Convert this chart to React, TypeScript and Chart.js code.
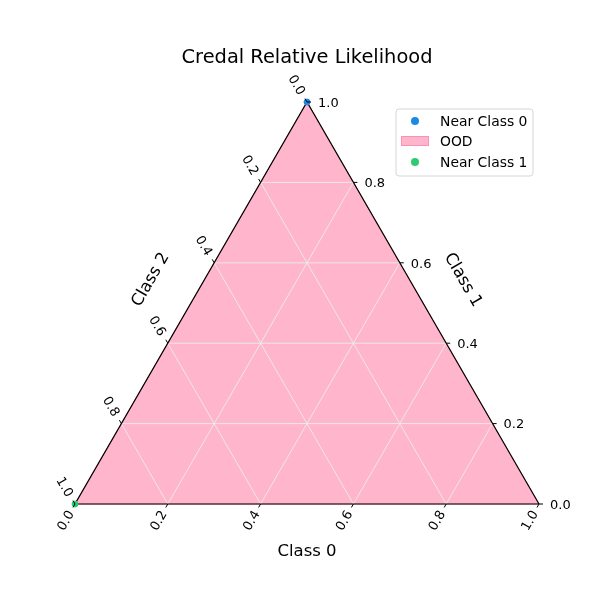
import React, { useEffect, useRef } from "react";
import { Chart, registerables } from "chart.js";

Chart.register(...registerables);

const H = Math.sqrt(3) / 2;

// ternary data (class0, class1, class2)
const nearClass0 = [[0, 1, 0]];
const nearClass1 = [[0, 0, 1]];
const oodRegion = [[1, 0, 0], [0, 1, 0], [0, 0, 1], [1, 0, 0]];
const tickValues = [0, 0.2, 0.4, 0.6, 0.8, 1.0];
const tickLabels = ["0.0", "0.2", "0.4", "0.6", "0.8", "1.0"];
const gridValues = [0.2, 0.4, 0.6, 0.8];
const axisTitles = ["Class 0", "Class 1", "Class 2"];
const legendLabels = ["Near Class 0", "OOD", "Near Class 1"];
const chartTitle = "Credal Relative Likelihood";

const BLUE = "#1E88E5";
const GREEN = "#2ECC71";
const PINK = "#FFB5CB";
const PINK_EDGE = "#FF8FB5";

function toXY(t: number[]) {
  const s = t[0] + t[1] + t[2];
  return { x: (t[0] + t[1] / 2) / s, y: (t[1] * H) / s };
}

export default function App() {
  const ref = useRef<HTMLCanvasElement | null>(null);
  useEffect(() => {
    document.body.style.margin = "0";
    const canvas = ref.current!;
    const gridSets: any[] = [];
    gridValues.forEach((g) => {
      const segs = [
        [[g, 1 - g, 0], [g, 0, 1 - g]],
        [[1 - g, g, 0], [0, g, 1 - g]],
        [[1 - g, 0, g], [0, 1 - g, g]],
      ];
      segs.forEach((s) => {
        gridSets.push({
          label: "grid",
          data: s.map(toXY),
          showLine: true,
          borderColor: "rgba(235,235,235,0.95)",
          borderWidth: 1,
          pointRadius: 0,
          fill: false,
          order: 2,
          clip: false,
        });
      });
    });
    const font = "'DejaVu Sans', sans-serif";
    const plugin = {
      id: "ternaryDecor",
      afterDraw(chart: any) {
        const ctx = chart.ctx as CanvasRenderingContext2D;
        const xs = chart.scales.x;
        const ys = chart.scales.y;
        const P = (t: number[]) => {
          const c = toXY(t);
          return { x: xs.getPixelForValue(c.x), y: ys.getPixelForValue(c.y) };
        };
        ctx.save();
        ctx.fillStyle = "#000";
        ctx.strokeStyle = "#000";
        ctx.lineWidth = 1;
        const tickLen = 4;
        tickValues.forEach((t, i) => {
          // bottom axis: class 0
          let p = P([t, 0, 1 - t]);
          let dx = -0.5, dy = H;
          ctx.beginPath();
          ctx.moveTo(p.x, p.y);
          ctx.lineTo(p.x + dx * tickLen, p.y + dy * tickLen);
          ctx.stroke();
          ctx.font = `13px ${font}`;
          ctx.save();
          ctx.translate(p.x + dx * 19, p.y + dy * 19);
          ctx.rotate(-Math.PI / 3);
          ctx.textAlign = "center";
          ctx.textBaseline = "middle";
          ctx.fillText(tickLabels[i], 0, 1);
          ctx.restore();
          // right axis: class 1
          p = P([1 - t, t, 0]);
          ctx.beginPath();
          ctx.moveTo(p.x, p.y);
          ctx.lineTo(p.x + tickLen, p.y);
          ctx.stroke();
          ctx.textAlign = "left";
          ctx.textBaseline = "middle";
          ctx.fillText(tickLabels[i], p.x + 11, p.y + 1.5);
          // left axis: class 2
          p = P([0, 1 - t, t]);
          dx = -0.5; dy = -H;
          ctx.beginPath();
          ctx.moveTo(p.x, p.y);
          ctx.lineTo(p.x + dx * tickLen, p.y + dy * tickLen);
          ctx.stroke();
          ctx.save();
          ctx.translate(p.x + dx * 20, p.y + dy * 20);
          ctx.rotate(Math.PI / 3);
          ctx.textAlign = "center";
          ctx.textBaseline = "middle";
          ctx.fillText(tickLabels[i], 0, 1);
          ctx.restore();
        });
        // axis titles
        ctx.font = `16.5px ${font}`;
        ctx.textAlign = "center";
        ctx.textBaseline = "middle";
        const b = P([0.5, 0, 0.5]);
        ctx.fillText(axisTitles[0], b.x, b.y + 47.5);
        const r = P([0.5, 0.5, 0]);
        ctx.save();
        ctx.translate(r.x + 47 * H, r.y - 47 * 0.5);
        ctx.rotate(Math.PI / 3);
        ctx.fillText(axisTitles[1], 0, 1);
        ctx.restore();
        const l = P([0, 0.5, 0.5]);
        ctx.save();
        ctx.translate(l.x - 47.5 * H, l.y - 47.5 * 0.5);
        ctx.rotate(-Math.PI / 3);
        ctx.fillText(axisTitles[2], 0, 1);
        ctx.restore();
        // title
        ctx.font = `19.4px ${font}`;
        ctx.fillText(chartTitle, 307, 58);
        // legend
        const lx = 396, ly = 109, lw = 137, lh = 67, rad = 3;
        ctx.beginPath();
        ctx.moveTo(lx + rad, ly);
        ctx.arcTo(lx + lw, ly, lx + lw, ly + lh, rad);
        ctx.arcTo(lx + lw, ly + lh, lx, ly + lh, rad);
        ctx.arcTo(lx, ly + lh, lx, ly, rad);
        ctx.arcTo(lx, ly, lx + lw, ly, rad);
        ctx.closePath();
        ctx.fillStyle = "rgba(255,255,255,0.8)";
        ctx.fill();
        ctx.strokeStyle = "#d6d6d6";
        ctx.stroke();
        const rows = [121, 141, 162];
        ctx.fillStyle = BLUE;
        ctx.beginPath();
        ctx.arc(415, rows[0], 4, 0, Math.PI * 2);
        ctx.fill();
        ctx.fillStyle = PINK;
        ctx.fillRect(401, rows[1] - 5, 28, 10);
        ctx.strokeStyle = PINK_EDGE;
        ctx.strokeRect(401.5, rows[1] - 4.5, 27, 9);
        ctx.fillStyle = GREEN;
        ctx.beginPath();
        ctx.arc(415, rows[2], 4, 0, Math.PI * 2);
        ctx.fill();
        ctx.fillStyle = "#000";
        ctx.font = `13.9px ${font}`;
        ctx.textAlign = "left";
        legendLabels.forEach((s, i) => ctx.fillText(s, 440, rows[i] + 1));
        ctx.restore();
      },
    };
    const chart = new Chart(canvas, {
      type: "scatter",
      data: {
        datasets: [
          {
            label: legendLabels[0],
            data: nearClass0.map(toXY),
            backgroundColor: BLUE,
            borderColor: BLUE,
            pointRadius: 3,
            order: 0,
            clip: false,
          } as any,
          {
            label: legendLabels[2],
            data: nearClass1.map(toXY),
            backgroundColor: GREEN,
            borderColor: GREEN,
            pointRadius: 3,
            order: 0,
            clip: false,
          },
          {
            label: "spines",
            data: oodRegion.map(toXY),
            showLine: true,
            borderColor: "#000",
            borderWidth: 1.2,
            pointRadius: 0,
            fill: false,
            order: 1,
            clip: false,
          },
          ...gridSets,
          {
            label: legendLabels[1],
            data: oodRegion.map(toXY),
            showLine: true,
            borderColor: PINK_EDGE,
            borderWidth: 1,
            backgroundColor: PINK,
            pointRadius: 0,
            fill: "shape",
            order: 3,
            clip: false,
          },
        ],
      },
      options: {
        animation: false,
        responsive: false,
        layout: { padding: { left: 75, right: 61, top: 102, bottom: 96 } },
        scales: {
          x: { type: "linear", min: 0, max: 1, display: false },
          y: { type: "linear", min: 0, max: H, display: false },
        },
        plugins: {
          legend: { display: false },
          title: { display: false },
          tooltip: { enabled: false },
        },
      },
      plugins: [plugin],
    });
    return () => chart.destroy();
  }, []);
  return (
    <div style={{ width: 600, height: 600 }}>
      <canvas ref={ref} width={600} height={600} style={{ width: 600, height: 600, display: "block" }} />
    </div>
  );
}
